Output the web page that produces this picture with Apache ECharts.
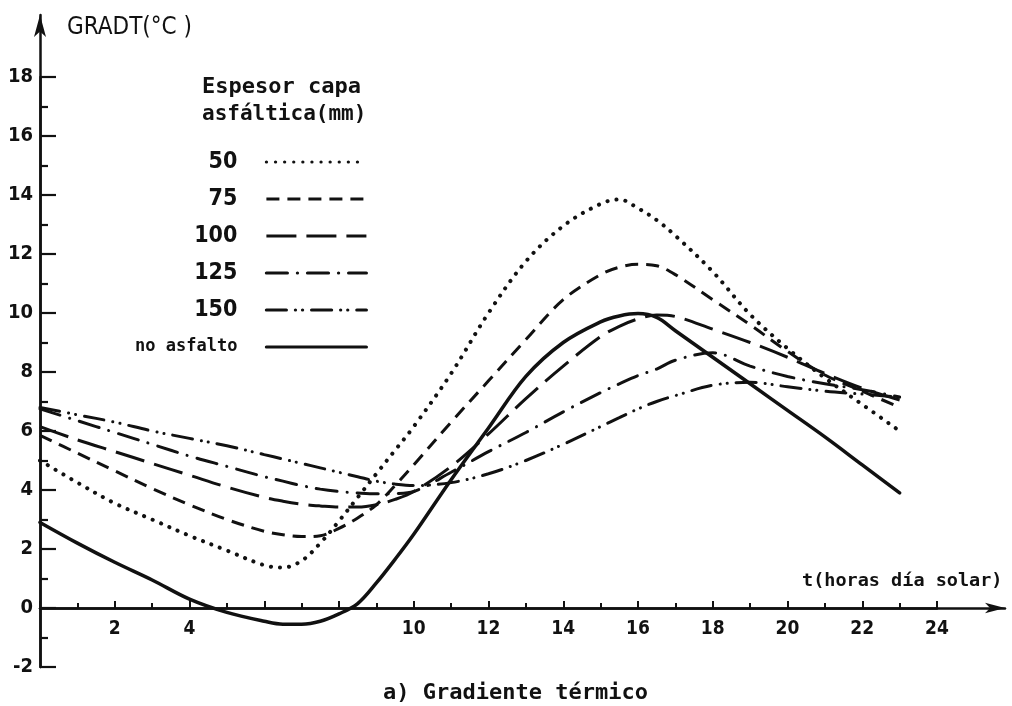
<!DOCTYPE html>
<html>
<head>
<meta charset="utf-8">
<script src="https://cdn.jsdelivr.net/npm/echarts@6/dist/echarts.min.js"></script>
<style>html,body{margin:0;padding:0;background:#fff}#c{width:1012px;height:706px}</style>
</head>
<body>
<div id="c"></div>
<script>
// ---- data ----
const hours = [0,1,2,3,4,5,6,6.5,7,7.5,8,8.5,9,9.5,10,11,12,13,14,15,15.5,16,16.5,17,18,19,20,21,22,23];
const seriesNames = ['50','75','100','125','150','no asfalto'];
const grad50  = [5.0,4.25,3.55,3.0,2.45,1.95,1.45,1.37,1.6,2.2,2.95,3.75,4.55,5.35,6.15,7.95,10.0,11.75,12.95,13.7,13.85,13.55,13.15,12.62,11.4,9.95,8.8,7.8,6.9,6.0];
const grad75  = [5.85,5.25,4.65,4.05,3.5,3.0,2.6,2.48,2.42,2.45,2.7,3.05,3.5,4.15,4.85,6.3,7.7,9.1,10.45,11.3,11.55,11.65,11.6,11.3,10.45,9.6,8.7,7.9,7.35,6.8];
const grad100 = [6.15,5.7,5.3,4.9,4.5,4.1,3.75,3.62,3.52,3.46,3.42,3.42,3.5,3.68,3.95,4.8,5.9,7.1,8.2,9.2,9.55,9.8,9.93,9.88,9.45,9.0,8.5,7.95,7.45,7.05];
const grad125 = [6.75,6.35,5.95,5.55,5.15,4.8,4.45,4.3,4.15,4.03,3.95,3.9,3.87,3.88,3.95,4.6,5.3,5.95,6.65,7.3,7.6,7.88,8.1,8.4,8.65,8.2,7.85,7.6,7.4,7.15];
const grad150 = [6.8,6.55,6.3,6.0,5.75,5.5,5.2,5.05,4.9,4.75,4.6,4.45,4.3,4.2,4.15,4.25,4.55,5.0,5.55,6.15,6.45,6.75,7.0,7.2,7.55,7.65,7.5,7.35,7.25,7.15];
const gradNoAsf = [2.9,2.2,1.55,0.95,0.3,-0.15,-0.45,-0.55,-0.55,-0.45,-0.2,0.15,0.85,1.65,2.5,4.35,6.1,7.85,9.0,9.7,9.9,9.98,9.85,9.4,8.5,7.6,6.7,5.8,4.85,3.9];
const xHiddenLabels = [0,6,8];
const yTitle = 'GRADT(°C )';
const xTitle = 't(horas día solar)';
const legendTitle1 = 'Espesor capa';
const legendTitle2 = 'asfáltica(mm)';
const caption = 'a) Gradiente térmico';

// ---- styles ----
const INK = '#111';
const NARROW = "'Liberation Sans Narrow','DejaVu Sans Condensed',sans-serif";
const MONO = "'DejaVu Sans Mono',monospace";
const dashStyles = [
  {type:[0.1,9], width:4, cap:'round'},
  {type:[13,8], width:3, cap:'butt'},
  {type:[30,10], width:3, cap:'butt'},
  {type:[21,10,0.1,10], width:3, cap:'round'},
  {type:[20,9,0.1,7,0.1,9], width:3, cap:'round'},
  {type:'solid', width:3.5, cap:'round'}
];
const allData = [grad50, grad75, grad100, grad125, grad150, gradNoAsf];

const series = seriesNames.map((name, k) => ({
  type:'line', name: name, xAxisIndex:1, yAxisIndex:1,
  data: hours.map((h,i) => [h, allData[k][i]]),
  smooth: 0.35, symbol:'none', showSymbol:false, silent:true, clip:false,
  itemStyle:{color: INK},
  lineStyle: Object.assign({color: INK}, dashStyles[k])
}));

const hidden = {show:false};
const chart = echarts.init(document.getElementById('c'), null, {renderer:'canvas'});
chart.setOption({
  animation:false,
  backgroundColor:'#fff',
  grid:[
    {left:40, right:7, top:15, bottom:39},
    {left:40, right:75, top:77, bottom:39},
    {left:40, right:75, top:77, bottom:98}
  ],
  xAxis:[
    {gridIndex:0, type:'value', min:0, max:25.82,
     axisLine:{show:true, onZero:true, symbol:['none','arrow'], symbolSize:[8,20], lineStyle:{color:INK, width:2.5}},
     axisTick:hidden, axisLabel:hidden, splitLine:hidden},
    {gridIndex:1, type:'value', min:0, max:24, show:false},
    {gridIndex:2, type:'value', min:0, max:24, interval:2, position:'bottom',
     axisLine:{show:true, onZero:false, lineStyle:{color:INK, width:2.5}},
     axisTick:{show:true, inside:true, length:7, lineStyle:{color:INK, width:2}},
     minorTick:{show:true, splitNumber:2, length:5, lineStyle:{color:INK, width:2}},
     axisLabel:{margin:12, color:INK, fontFamily:NARROW, fontWeight:'bold', fontSize:19,
       formatter: v => xHiddenLabels.indexOf(v) >= 0 ? '' : String(v)},
     splitLine:hidden}
  ],
  yAxis:[
    {gridIndex:0, type:'value', min:-2, max:20.1,
     axisLine:{show:true, onZero:true, symbol:['none','arrow'], symbolSize:[9,22], lineStyle:{color:INK, width:2.5}},
     axisTick:hidden, axisLabel:hidden, splitLine:hidden},
    {gridIndex:1, type:'value', min:-2, max:18, interval:2,
     axisLine:{show:true, onZero:true, lineStyle:{color:INK, width:2.5}},
     axisTick:{show:true, inside:true, length:16, lineStyle:{color:INK, width:2.2}},
     minorTick:{show:true, splitNumber:2, length:8, lineStyle:{color:INK, width:2.2}},
     axisLabel:{margin:7, color:INK, fontFamily:NARROW, fontWeight:'bold', fontSize:20},
     splitLine:hidden},
    {gridIndex:2, type:'value', min:0, max:18, show:false}
  ],
  legend:{
    data: seriesNames, orient:'vertical', align:'right', right:644, top:150, padding:0,
    itemWidth:100, itemHeight:14, itemGap:13, selectedMode:false,
    itemStyle:{opacity:0},
    lineStyle:{width:3.2},
    formatter: n => n === 'no asfalto' ? '{m|' + n + '}' : n,
    textStyle:{fontFamily:NARROW, fontWeight:'bold', fontSize:23, lineHeight:24, color:INK, padding:[0,24,0,0],
      rich:{m:{fontFamily:MONO, fontWeight:'bold', fontSize:17, lineHeight:24, color:INK}}}
  },
  graphic:[
    {type:'text', x:67, y:28, silent:true, style:{text:yTitle, fill:INK, font:"24px " + NARROW, verticalAlign:'middle', align:'left'}},
    {type:'text', x:202, y:87, silent:true, style:{text:legendTitle1, fill:INK, font:"bold 22px " + MONO, verticalAlign:'middle', align:'left'}},
    {type:'text', x:202, y:115, silent:true, style:{text:legendTitle2, fill:INK, font:"bold 21px " + MONO, verticalAlign:'middle', align:'left'}},
    {type:'text', x:802, y:581, silent:true, style:{text:xTitle, fill:INK, font:"bold 18.5px " + MONO, verticalAlign:'middle', align:'left'}},
    {type:'text', x:383, y:693, silent:true, style:{text:caption, fill:INK, font:"bold 22px " + MONO, verticalAlign:'middle', align:'left'}}
  ],
  series: series
});
</script>
</body>
</html>
